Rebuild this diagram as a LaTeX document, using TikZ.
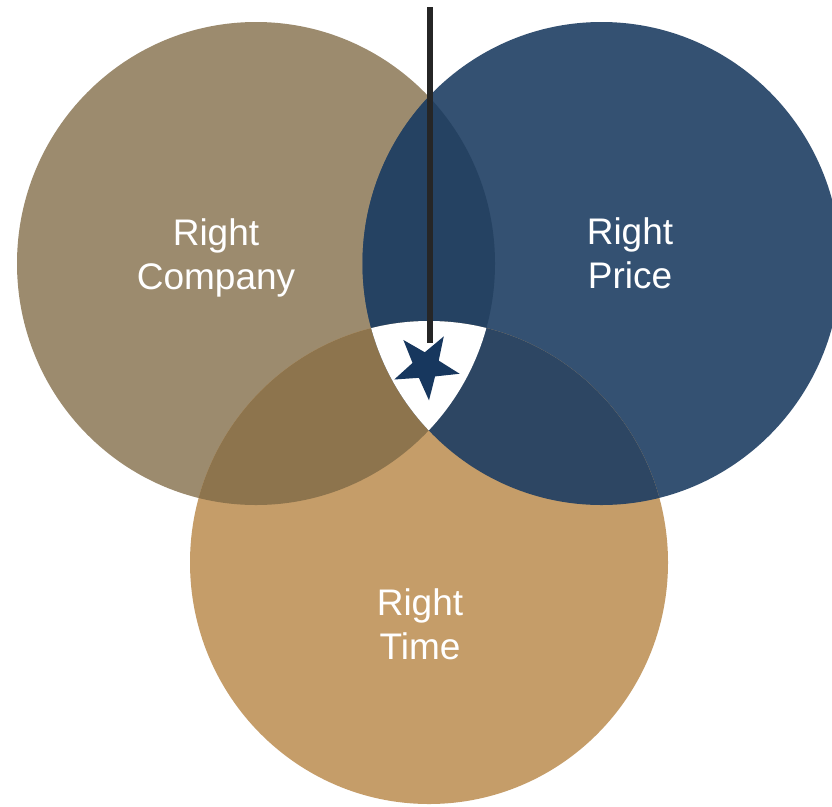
\documentclass[tikz,border=0pt]{standalone}
\usepackage{fontspec}
\setmainfont{Liberation Sans}
\usetikzlibrary{shapes.geometric}
\definecolor{cL}{HTML}{9C8B6E}
\definecolor{cR}{HTML}{345172}
\definecolor{cB}{HTML}{C59D69}
\definecolor{cLR}{HTML}{254262}
\definecolor{cLB}{HTML}{8D744D}
\definecolor{cRB}{HTML}{2D4663}
\definecolor{cStar}{HTML}{17375E}
\definecolor{cLine}{HTML}{262626}
\tikzset{
  lbl/.style={anchor=base, text=white, inner sep=0pt, font=\fontsize{37}{44}\selectfont},
  starnode/.style={star, star points=5, star point ratio=2.5, minimum size=69pt, inner sep=0pt, fill=cStar, draw=none, shape border rotate=185},
  pointer/.style={draw=cLine, line width=5.5pt, line cap=butt}
}
\begin{document}
\begin{tikzpicture}[x=1pt,y=1pt]
\clip (0,0) rectangle (832,-806);
\fill[white] (0,0) rectangle (832,-806);
\coordinate (L) at (256,-263.5);
\coordinate (R) at (601.5,-263.5);
\coordinate (B) at (429,-562.5);
\def\rx{239}
\def\ry{241.5}
\fill[cL] (L) ellipse [x radius=\rx, y radius=\ry];
\fill[cR] (R) ellipse [x radius=\rx, y radius=\ry];
\fill[cB] (B) ellipse [x radius=\rx, y radius=\ry];
\begin{scope}
  \clip (L) ellipse [x radius=\rx, y radius=\ry];
  \fill[cLR] (R) ellipse [x radius=\rx, y radius=\ry];
\end{scope}
\begin{scope}
  \clip (L) ellipse [x radius=\rx, y radius=\ry];
  \fill[cLB] (B) ellipse [x radius=\rx, y radius=\ry];
\end{scope}
\begin{scope}
  \clip (R) ellipse [x radius=\rx, y radius=\ry];
  \fill[cRB] (B) ellipse [x radius=\rx, y radius=\ry];
\end{scope}
\begin{scope}
  \clip (L) ellipse [x radius=\rx, y radius=\ry];
  \clip (R) ellipse [x radius=\rx, y radius=\ry];
  \fill[white] (B) ellipse [x radius=\rx, y radius=\ry];
\end{scope}
\node[starnode] (star) at (426,-366) {};
\coordinate (top) at (430,-7);
\coordinate (lineend) at (430,-343);
\draw[pointer] (top) -- (lineend);
\node[lbl] (rc1) at (216,-245) {Right};
\node[lbl] (rc2) at (216,-289) {Company};
\node[lbl] (rp1) at (630,-244) {Right};
\node[lbl] (rp2) at (630,-288) {Price};
\node[lbl] (rt1) at (420,-615) {Right};
\node[lbl] (rt2) at (420,-659) {Time};
\end{tikzpicture}
\end{document}
